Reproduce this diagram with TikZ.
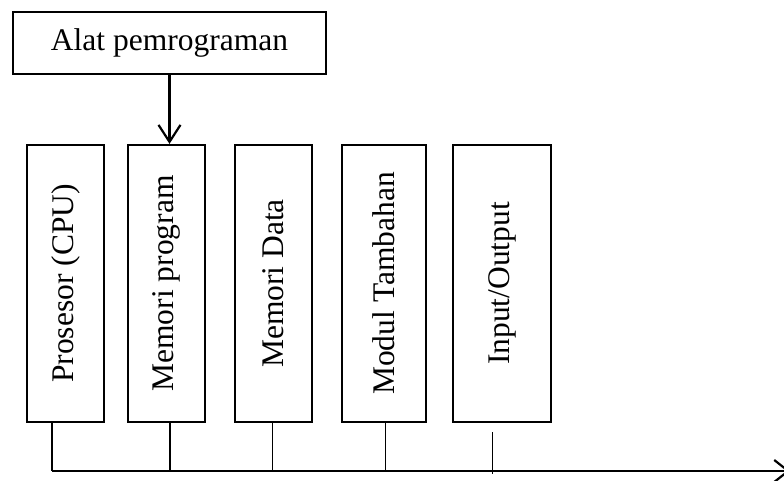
\documentclass[tikz,border=0pt]{standalone}
\usepackage{fontspec}
\setmainfont{Liberation Serif}
\usetikzlibrary{arrows.meta}
\begin{document}
\begin{tikzpicture}[x=1pt,y=-1pt,
  unit/.style={draw, line width=2.2pt, minimum width=77pt, minimum height=277pt, inner sep=0pt},
  lbl/.style={rotate=90, inner sep=0pt, font=\fontsize{31.5}{36}\selectfont},
  tool/.style={draw, line width=2.2pt, minimum width=313pt, minimum height=62pt, inner sep=0pt,
               font=\fontsize{31.5}{36}\selectfont},
  feed/.style={line width=2.2pt, -{Straight Barb[length=17pt,width=22pt,line width=2.2pt]}},
  drop/.style={line width=1.5pt},
  bus/.style={line width=2.4pt, -{Straight Barb[length=14pt,width=22pt,line width=2.2pt]}}]
  \useasboundingbox (0,0) rectangle (784,480);

  % programming tool
  \node[tool] (tool) at (169.5,43) {Alat pemrograman};

  % functional units
  \node[unit] (b1) at (65.5,283.5) {};
  \node[unit] (b2) at (166.5,283.5) {};
  \node[unit] (b3) at (273.5,283.5) {};
  \node[unit, minimum width=84pt] (b4) at (384,283.5) {};
  \node[unit, minimum width=98pt] (b5) at (502,283.5) {};

  \node[lbl] (t1) at (b1) {Prosesor (CPU)};
  \node[lbl] (t2) at (b2) {Memori program};
  \node[lbl] (t3) at (b3) {Memori Data};
  \node[lbl] (t4) at (b4) {Modul Tambahan};
  \node[lbl] (t5) at (b5) {Input/Output};

  % programming link
  \draw[feed] (tool.south) -- (tool.south |- b2.north);

  % system bus
  \coordinate (busL) at (52,471);
  \coordinate (busR) at (790,471);
  \coordinate (d2) at (170,471);
  \coordinate (d3) at (272.5,471);
  \coordinate (d4) at (385.5,471);
  \coordinate (d5) at (492.5,474);
  \coordinate (d5top) at (492.5,432);

  \draw[line width=2.2pt] (b1.south -| busL) -- (busL);
  \draw[drop] (b2.south -| d2) -- (d2);
  \draw[drop] (b3.south -| d3) -- (d3);
  \draw[drop] (b4.south -| d4) -- (d4);
  \draw[drop] (d5top) -- (d5);
  \draw[bus] (busL) -- (busR);
\end{tikzpicture}
\end{document}
